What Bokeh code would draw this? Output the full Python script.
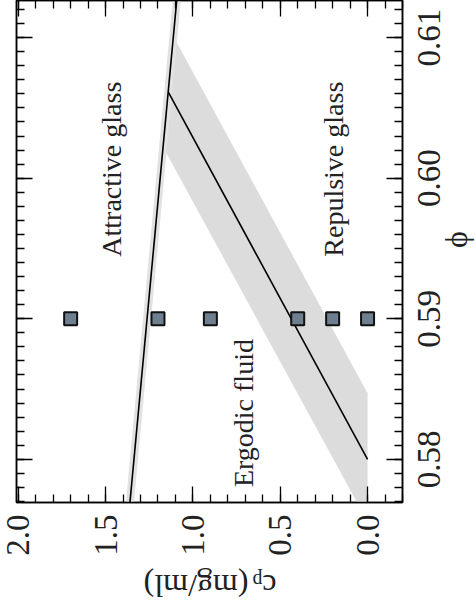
import math
from bokeh.plotting import figure
from bokeh.layouts import column, row
from bokeh.models import (Range1d, LinearAxis, Label, SingleIntervalTicker,
                          PrintfTickFormatter)
from bokeh.core.properties import value
from bokeh.embed import file_html
from bokeh.resources import INLINE

# ---------------- data ----------------
sample_phi = [0.59, 0.59, 0.59, 0.59, 0.59, 0.59]
sample_cp = [0.0, 0.2, 0.4, 0.9, 1.2, 1.7]

attr_phi = [0.575, 0.615]
attr_cp = [1.375, 1.075]

rep_phi = [0.58, 0.6061]
rep_cp = [0.0, 1.14]

band_phi = [0.61009, 0.58471, 0.57556, 0.60222]
band_cp = [1.112, 0.0, 0.0, 1.171]

region_text = ["Attractive glass", "Ergodic fluid", "Repulsive glass"]
region_phi = [0.60064, 0.58329, 0.60064]
region_cp = [1.466, 0.71, 0.195]

phi_ticks = [0.58, 0.59, 0.60, 0.61]
phi_tick_labels = ["0.58", "0.59", "0.60", "0.61"]

FONT = "Liberation Serif"
TXT = "#222222"
W, H = 476, 615
MAIN_W, MAIN_H = 410, 565
FRAME_LEFT, FRAME_BOTTOM, FRAME_RIGHT = 16, 502, 402

y_rng = Range1d(0.57693, 0.61264)

p = figure(width=MAIN_W, height=MAIN_H, output_backend="svg", toolbar_location=None,
           x_range=Range1d(2.01, -0.2), y_range=y_rng,
           x_axis_location="below", y_axis_location="right",
           min_border_left=FRAME_LEFT, min_border_right=MAIN_W - FRAME_RIGHT,
           min_border_top=0, min_border_bottom=MAIN_H - FRAME_BOTTOM)
p.background_fill_color = "white"
p.border_fill_color = "white"
p.grid.visible = False
p.outline_line_color = "black"
p.outline_line_width = 1.5

p.patch(x=band_cp, y=band_phi, fill_color="#dcdcdc", line_color=None)
p.line(x=attr_cp, y=attr_phi, line_color="#e2e2e2", line_width=8)
p.line(x=attr_cp, y=attr_phi, line_color="black", line_width=1.6)
p.line(x=rep_cp, y=rep_phi, line_color="black", line_width=1.6)
p.scatter(x=sample_cp, y=sample_phi, marker="square", size=13,
          fill_color="#6e7f90", line_color="#111111", line_width=2)

for t, ph, cp in zip(region_text, region_phi, region_cp):
    p.add_layout(Label(x=cp, y=ph, text=t, angle=math.pi / 2,
                       text_align="center", text_baseline="middle",
                       text_font=FONT, text_font_size="28px", text_color=TXT))

def style_axis(ax, show_labels):
    ax.axis_line_color = "black"
    ax.axis_line_width = 1.5
    ax.major_tick_line_color = "black"
    ax.major_tick_line_width = 1.3
    ax.minor_tick_line_color = "black"
    ax.minor_tick_line_width = 1.3
    ax.major_tick_in = 16
    ax.major_tick_out = 0
    ax.minor_tick_in = 8
    ax.minor_tick_out = 0
    if show_labels:
        ax.major_label_text_font = FONT
        ax.major_label_text_font_size = "33px"
        ax.major_label_text_color = TXT
        ax.major_label_standoff = 12
        ax.major_label_orientation = math.pi / 2
    else:
        ax.major_label_text_font_size = "0px"
        ax.major_label_standoff = 0
        ax.major_label_text_alpha = 0

xb = p.xaxis[0]
xb.ticker = SingleIntervalTicker(interval=0.5, num_minor_ticks=5)
xb.formatter = PrintfTickFormatter(format="%.1f")
style_axis(xb, True)
xt = LinearAxis(ticker=SingleIntervalTicker(interval=0.5, num_minor_ticks=5))
style_axis(xt, False)
p.add_layout(xt, "above")

yr = p.yaxis[0]
yr.ticker = SingleIntervalTicker(interval=0.01, num_minor_ticks=10)
style_axis(yr, False)
yl = LinearAxis(ticker=SingleIntervalTicker(interval=0.01, num_minor_ticks=10))
style_axis(yl, False)
p.add_layout(yl, "left")

# ---- strip right of the plot: phi tick labels and phi title (shared y scale) ----
r = figure(width=W - MAIN_W, height=MAIN_H, output_backend="svg",
           toolbar_location=None, x_range=Range1d(0, W - MAIN_W), y_range=y_rng,
           x_axis_location=None, y_axis_location=None,
           min_border_left=0, min_border_right=0, min_border_top=0,
           min_border_bottom=MAIN_H - FRAME_BOTTOM)
r.outline_line_color = None
r.grid.visible = False
r.background_fill_color = "white"
r.border_fill_color = "white"
r.text(x=[428.5 - MAIN_W] * len(phi_ticks), y=phi_ticks, text=phi_tick_labels,
       angle=math.pi / 2, text_align="center", text_baseline="middle",
       text_font=value(FONT), text_font_size="33px", text_color=TXT)
r.text(x=[455 - MAIN_W], y=[0.59564], text=["ϕ"], angle=math.pi / 2,
       text_align="center", text_baseline="middle",
       text_font=value(FONT), text_font_size="32px", text_color=TXT)

# ---- strip below the plot: upside-down c_p title ----
q = figure(width=W, height=H - MAIN_H, output_backend="svg", toolbar_location=None,
           x_range=Range1d(0, W), y_range=Range1d(H, MAIN_H),
           x_axis_location=None, y_axis_location=None,
           min_border_left=0, min_border_right=0, min_border_top=0,
           min_border_bottom=0)
q.outline_line_color = None
q.grid.visible = False
q.background_fill_color = "white"
q.border_fill_color = "white"
q.text(x=[248], y=[585], text=["(mg/ml)"], angle=math.pi,
       text_align="left", text_baseline="alphabetic",
       text_font=value(FONT), text_font_size="32px", text_color=TXT)
q.text(x=[269], y=[585], text=["c"], angle=math.pi,
       text_align="center", text_baseline="alphabetic",
       text_font=value(FONT), text_font_size="32px", text_color=TXT)
q.text(x=[257], y=[580], text=["p"], angle=math.pi,
       text_align="center", text_baseline="alphabetic",
       text_font=value(FONT), text_font_size="20px", text_color=TXT)

layout = column(row(p, r, spacing=0), q, spacing=0)
open("out.html", "w").write(file_html(layout, INLINE))
